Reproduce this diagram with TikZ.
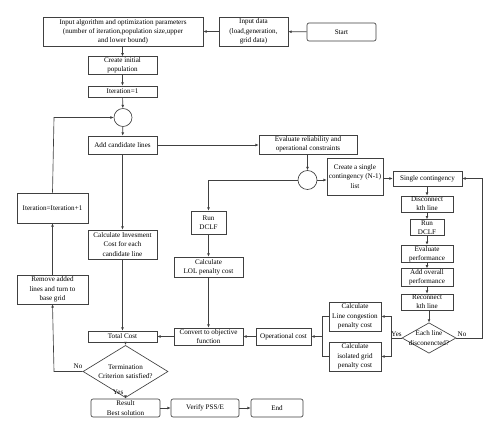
\documentclass[tikz,border=0pt]{standalone}
\usepackage{fontspec}
\setmainfont{Liberation Serif}
\usetikzlibrary{arrows.meta,shapes.geometric}
\begin{document}
\begin{tikzpicture}[x=1pt,y=-1pt,
  every node/.style={font=\fontsize{7.1}{9.2}\selectfont, inner sep=1pt, align=center},
  box/.style={draw=black!75, line width=0.65pt, fill=white},
  rbox/.style={box, rounded corners=2pt},
  dec/.style={box, shape=diamond, inner sep=-4pt},
  junc/.style={draw=black!75, line width=0.65pt, circle, fill=white, inner sep=0pt},
  conn/.style={draw=black!75, line width=0.65pt},
  arr/.style={conn, -{Latex[length=3.2pt,width=2.8pt]}},
  lbl/.style={font=\fontsize{7.1}{8}\selectfont, inner sep=0.5pt}
]
\useasboundingbox (0,0) rectangle (500,435);
\fill[white] (0,0) rectangle (500,435);

% nodes
\node[box, minimum width=160, minimum height=29] (par) at (123,31.5) {Input algorithm and optimization parameters\\(number of iteration,population size,upper\\and lower bound)};
\node[box, minimum width=69, minimum height=29] (inp) at (253.5,31.5) {Input data\\(load,generation,\\grid data)};
\node[rbox, minimum width=69, minimum height=18] (start) at (341.5,32) {Start};
\node[box, minimum width=69, minimum height=17] (pop) at (122.5,65.5) {Create initial\\population};
\node[box, minimum width=69, minimum height=11] (it1) at (122.5,91.5) {Iteration=1};
\node[junc, minimum size=18] (c1) at (123,117.5) {};
\node[box, minimum width=69, minimum height=18] (add) at (122.5,145) {Add candidate lines};
\node[box, minimum width=69, minimum height=29] (inv) at (122.5,244.5) {Calculate Invesment\\Cost for each\\candidate line};
\node[box, minimum width=71, minimum height=30] (itp) at (52.5,208) {Iteration=Iteration+1};
\node[box, minimum width=71, minimum height=29] (rem) at (52.5,289.5) {Remove added\\lines and turn to\\base grid};
\node[box, minimum width=98, minimum height=19] (eval) at (308,144.5) {Evaluate reliability and\\operational constraints};
\node[junc, minimum size=19] (c2) at (307.5,180) {};
\node[box, minimum width=56, minimum height=37] (crt) at (355,176.5) {Create a single\\contingency (N-1)\\list};
\node[box, minimum width=69, minimum height=15] (sc) at (427.5,178.5) {Single contingency};
\node[box, minimum width=52, minimum height=16] (disc) at (427,204) {Disconnect\\kth line};
\node[box, minimum width=34, minimum height=15] (rd2) at (427,227.5) {Run\\DCLF};
\node[box, minimum width=52, minimum height=16] (ep) at (427,254) {Evaluate\\performance};
\node[box, minimum width=52, minimum height=17] (aop) at (427,277.5) {Add overall\\performance};
\node[box, minimum width=52, minimum height=16] (rec) at (427,302) {Reconnect\\kth line};
\node[dec, inner sep=-6pt, minimum width=54, minimum height=30] (d2) at (429,338) {Each line\\disconencted?};
\node[box, minimum width=52, minimum height=29] (clc) at (355,316.5) {Calculate\\Line congestion\\penalty cost};
\node[box, minimum width=52, minimum height=29] (cig) at (355,356.5) {Calculate\\isolated grid\\penalty cost};
\node[box, minimum width=55, minimum height=17] (opc) at (283.5,336.5) {Operational cost};
\node[box, minimum width=69, minimum height=17] (conv) at (208.5,336.5) {Convert to objective\\function};
\node[box, minimum width=69, minimum height=11] (tot) at (122.5,336.5) {Total Cost};
\node[dec, minimum width=85, minimum height=33] (d1) at (125.5,371.5) {Termination\\Criterion satisfied?};
\node[box, minimum width=35, minimum height=23] (rd1) at (208.5,222.5) {Run\\DCLF};
\node[box, minimum width=69, minimum height=20] (lol) at (208.5,267) {Calculate\\LOL penalty cost};
\node[rbox, minimum width=69, minimum height=18] (res) at (125.5,408) {Result\\Best solution};
\node[rbox, minimum width=68, minimum height=18] (ver) at (205,408) {Verify PSS/E};
\node[rbox, minimum width=52, minimum height=18] (end) at (277,408) {End};

\coordinate (nocorner) at (54,371.5);
\coordinate (loopcorner) at (54,117.5);
\coordinate (rightcorner) at (482.5,338);
\coordinate (yesbus) at (391,338);
\coordinate (ltop) at (322,316.5);
\coordinate (lbot) at (322,356.5);
\coordinate (lmid) at (322,336.5);

% connectors
\draw[arr] (start) -- (inp);
\draw[arr] (inp) -- (par);
\draw[arr] (par.south -| pop) -- (pop);
\draw[arr] (pop) -- (it1);
\draw[arr] (it1) -- (c1);
\draw[arr] (c1) -- (add);
\draw[arr] (add.east) -- (eval.west |- add.east);
\draw[arr] (add) -- (inv);
\draw[arr] (inv) -- (tot);
\draw[arr] (eval.south -| c2) -- (c2);
\draw[arr] (c2) -- (crt.west |- c2);
\draw[arr] (c2.west) -| (rd1.north);
\draw[arr] (rd1) -- (lol);
\draw[arr] (lol) -- (conv);
\draw[arr] (crt.east |- sc) -- (sc);
\draw[arr] (disc.north |- sc.south) -- (disc);
\draw[arr] (disc) -- (rd2);
\draw[arr] (rd2) -- (ep);
\draw[arr] (ep) -- (aop);
\draw[arr] (aop) -- (rec);
\draw[arr] (rec.south -| d2) -- (d2);
\draw[arr] (d2.east) -- (rightcorner) |- (sc.east);
\draw[conn] (d2.west) -- (yesbus);
\draw[arr] (yesbus) |- (clc.east);
\draw[arr] (yesbus) |- (cig.east);
\draw[conn] (clc.west) -- (ltop) -- (lbot) -- (cig.west);
\draw[arr] (lmid) -- (opc.east);
\draw[arr] (opc) -- (conv);
\draw[arr] (conv) -- (tot);
\draw[arr] (d1.north |- tot.south) -- (d1.north);
\draw[arr] (d1.west) -- (nocorner) -- (rem.south);
\draw[arr] (rem) -- (itp);
\draw[arr] (itp.north) -- (loopcorner) -- (c1.west);
\draw[arr] (d1.south) -- (res.north -| d1.south);
\draw[arr] (res) -- (ver);
\draw[arr] (ver) -- (end);

% labels
\node[lbl, anchor=south east] at (83,369.5) {No};
\node[lbl, anchor=north east] at (124,389) {Yes};
\node[lbl, anchor=south] at (396.5,337.5) {Yes};
\node[lbl, anchor=south] at (462,337.5) {No};
\end{tikzpicture}
\end{document}
